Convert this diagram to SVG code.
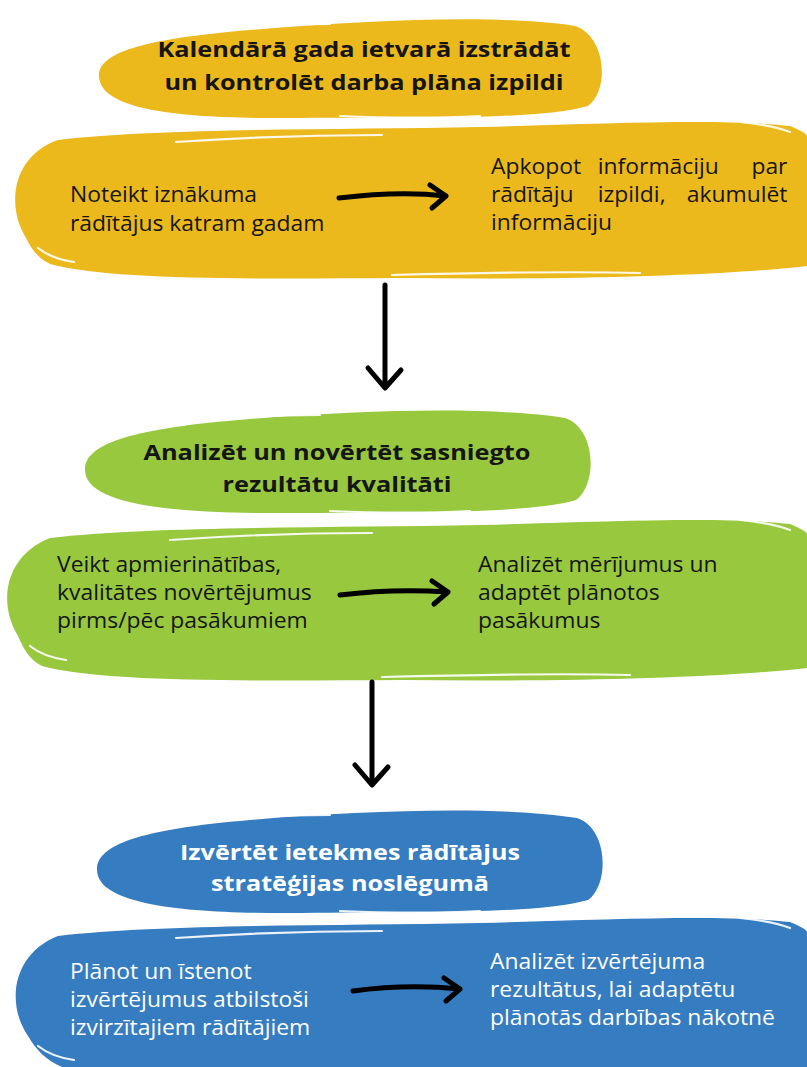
<svg xmlns="http://www.w3.org/2000/svg" width="807" height="1067" viewBox="0 0 807 1067">
<style>
.title{font-family:"Open Sans","DejaVu Sans",sans-serif;font-weight:700;font-size:22px;text-anchor:middle}
.body{font-family:"Open Sans","DejaVu Sans",sans-serif;font-size:21px}
.end{text-anchor:end}
.dark{fill:#151515}
.light{fill:#fff}
.yel{fill:#ECB91C}
.grn{fill:#98C83E}
.blu{fill:#367CC0}
.hl{fill:none;stroke:#fff;stroke-width:2.2;stroke-linecap:round;opacity:0.9}
.arr{fill:none;stroke:#000;stroke-width:5;stroke-linecap:round;stroke-linejoin:round}
</style>
<rect width="807" height="1067" fill="#fff"/>

<g id="node-yellow-title">
<path class="yel" d="M100,82 C92,56 130,40 250,30 C370,20 500,14 575,26 C606,36 610,90 588,106 C540,120 420,117 300,118 C190,119 110,112 100,82 Z"/>
<path class="hl" d="M190,31 C250,25 300,24 330,24"/>
<path class="hl" d="M106,96 C114,104 124,108 134,110"/>
<path class="hl" d="M470,18 C500,16 530,16 555,19"/>
<path class="hl" d="M340,116 C390,118 440,118 480,116"/>
<text class="title dark" x="364" y="57" textLength="413" lengthAdjust="spacingAndGlyphs">Kalendārā gada ietvarā izstrādāt</text>
<text class="title dark" x="364" y="90" textLength="399" lengthAdjust="spacingAndGlyphs">un kontrolēt darba plāna izpildi</text>
</g>

<g id="node-yellow-body">
<path class="yel" d="M26,238 C6,206 12,156 58,140 C160,128 330,130 480,127 C600,124 720,118 790,126 C800,130 807,134 807,136 L807,266 C720,276 560,280 400,278 C240,279 110,280 50,264 C38,258 32,250 26,238 Z"/>
<path class="hl" d="M176,142 C250,137 320,135 382,135"/>
<path class="hl" d="M38,248 C48,256 60,260 74,262"/>
<path class="hl" d="M392,275 C470,273 560,271 640,273"/>
<path class="hl" d="M740,122 C760,124 775,126 790,132"/>
<g transform="translate(70,0) scale(1.09,1)">
<text class="body dark" x="0" y="202">Noteikt iznākuma</text>
<text class="body dark" x="0" y="231">rādītājus katram gadam</text>
</g>
<g transform="translate(491,0) scale(1.09,1)">
<text class="body dark" x="0" y="174">Apkopot</text>
<text class="body dark" x="98" y="174">informāciju</text>
<text class="body dark end" x="272" y="174">par</text>
<text class="body dark" x="0" y="202">rādītāju</text>
<text class="body dark" x="98" y="202">izpildi,</text>
<text class="body dark end" x="272" y="202">akumulēt</text>
<text class="body dark" x="0" y="230">informāciju</text>
</g>
</g>

<g id="node-green-title">
<path class="grn" d="M86,476 C78,448 118,430 238,420 C358,410 490,406 565,418 C596,428 598,484 576,500 C528,514 408,512 290,513 C180,514 96,506 86,476 Z"/>
<path class="hl" d="M180,422 C240,416 290,415 320,415"/>
<path class="hl" d="M92,490 C100,498 110,502 120,504"/>
<path class="hl" d="M460,408 C490,406 520,406 545,409"/>
<path class="hl" d="M330,511 C380,513 430,513 470,511"/>
<text class="title dark" x="337" y="460" textLength="387" lengthAdjust="spacingAndGlyphs">Analizēt un novērtēt sasniegto</text>
<text class="title dark" x="337" y="492" textLength="229" lengthAdjust="spacingAndGlyphs">rezultātu kvalitāti</text>
</g>

<g id="node-green-body">
<path class="grn" d="M18,636 C-2,604 4,556 50,538 C150,526 330,528 480,525 C600,522 720,516 790,524 C800,528 807,532 807,534 L807,668 C720,678 560,682 400,680 C240,681 100,682 42,666 C30,660 24,650 18,636 Z"/>
<path class="hl" d="M170,540 C240,535 310,533 372,533"/>
<path class="hl" d="M30,646 C40,654 52,658 66,660"/>
<path class="hl" d="M382,677 C460,675 550,673 630,675"/>
<path class="hl" d="M740,520 C760,522 775,524 790,530"/>
<g transform="translate(57,0) scale(1.09,1)">
<text class="body dark" x="0" y="572">Veikt apmierinātības,</text>
<text class="body dark" x="0" y="600">kvalitātes novērtējumus</text>
<text class="body dark" x="0" y="628">pirms/pēc pasākumiem</text>
</g>
<g transform="translate(478,0) scale(1.09,1)">
<text class="body dark" x="0" y="572">Analizēt mērījumus un</text>
<text class="body dark" x="0" y="600">adaptēt plānotos</text>
<text class="body dark" x="0" y="628">pasākumus</text>
</g>
</g>

<g id="node-blue-title">
<path class="blu" d="M98,876 C90,848 130,830 250,820 C370,810 502,806 577,818 C608,828 610,884 588,900 C540,914 420,912 302,913 C192,914 108,906 98,876 Z"/>
<path class="hl" d="M190,822 C250,816 300,815 330,815"/>
<path class="hl" d="M104,890 C112,898 122,902 132,904"/>
<path class="hl" d="M470,808 C500,806 530,806 555,809"/>
<path class="hl" d="M340,911 C390,913 440,913 480,911"/>
<text class="title light" x="350" y="860" textLength="340" lengthAdjust="spacingAndGlyphs">Izvērtēt ietekmes rādītājus</text>
<text class="title light" x="350" y="891" textLength="278" lengthAdjust="spacingAndGlyphs">stratēģijas noslēgumā</text>
</g>

<g id="node-blue-body">
<path class="blu" d="M28,1036 C6,1004 12,954 58,936 C160,924 330,926 480,923 C600,920 720,914 790,922 C800,926 807,930 807,932 L807,1067 L62,1067 C46,1060 36,1050 28,1036 Z"/>
<path class="hl" d="M176,938 C250,933 320,931 382,931"/>
<path class="hl" d="M38,1046 C48,1054 60,1058 74,1060"/>
<path class="hl" d="M740,918 C760,920 775,922 790,928"/>
<g transform="translate(70,0) scale(1.09,1)">
<text class="body light" x="0" y="979">Plānot un īstenot</text>
<text class="body light" x="0" y="1007">izvērtējumus atbilstoši</text>
<text class="body light" x="0" y="1035">izvirzītajiem rādītājiem</text>
</g>
<g transform="translate(490,0) scale(1.09,1)">
<text class="body light" x="0" y="969">Analizēt izvērtējuma</text>
<text class="body light" x="0" y="997">rezultātus, lai adaptētu</text>
<text class="body light" x="0" y="1025">plānotās darbības nākotnē</text>
</g>
</g>

<g id="connectors">
<path class="arr" d="M339,198 C380,193 420,193 446,196 M430,185 L446,196 L432,208"/>
<path class="arr" d="M340,595 C380,590 420,590 448,592 M432,581 L448,592 L434,604"/>
<path class="arr" d="M353,991 C390,986 430,986 460,989 M444,978 L460,989 L446,1001"/>
<path class="arr" d="M385,285 L385,387 M368,368 L385,388 L401,370"/>
<path class="arr" d="M372,682 L372,784 M355,765 L372,785 L388,767"/>
</g>
</svg>
